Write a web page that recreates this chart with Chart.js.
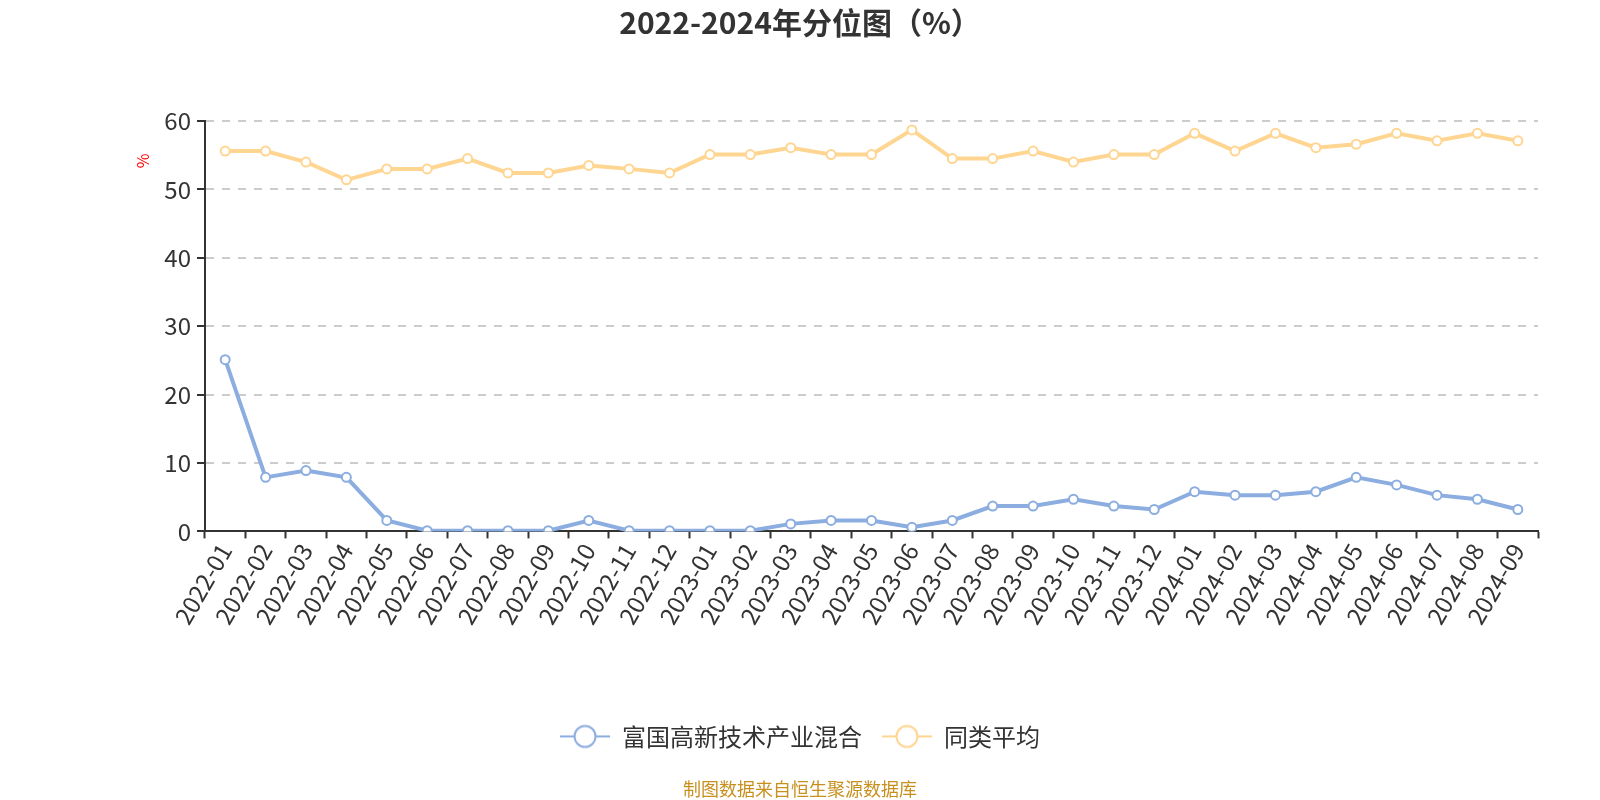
<!DOCTYPE html>
<html>
<head>
<meta charset="utf-8">
<script src="https://cdn.jsdelivr.net/npm/chart.js@4/dist/chart.umd.min.js"></script>
<style>
  html, body { margin: 0; padding: 0; background: #fff; }
  #wrap { width: 1600px; height: 800px; }
</style>
</head>
<body>
<div id="wrap"><canvas id="myChart"></canvas></div>
<script>
var months = ['2022-01','2022-02','2022-03','2022-04','2022-05','2022-06','2022-07','2022-08','2022-09','2022-10','2022-11','2022-12',
  '2023-01','2023-02','2023-03','2023-04','2023-05','2023-06','2023-07','2023-08','2023-09','2023-10','2023-11','2023-12',
  '2024-01','2024-02','2024-03','2024-04','2024-05','2024-06','2024-07','2024-08','2024-09'];
var fundValues = [25.1, 7.9, 8.9, 7.9, 1.6, 0.1, 0.1, 0.1, 0.1, 1.6, 0.1, 0.1,
  0.1, 0.1, 1.1, 1.6, 1.6, 0.6, 1.6, 3.7, 3.7, 4.7, 3.7, 3.2,
  5.8, 5.3, 5.3, 5.8, 7.9, 6.8, 5.3, 4.7, 3.2];
var avgValues = [55.6, 55.6, 54.0, 51.4, 53.0, 53.0, 54.5, 52.4, 52.4, 53.5, 53.0, 52.4,
  55.1, 55.1, 56.1, 55.1, 55.1, 58.7, 54.5, 54.5, 55.6, 54.0, 55.1, 55.1,
  58.2, 55.6, 58.2, 56.1, 56.6, 58.2, 57.1, 58.2, 57.1];
var yTicks = [0, 10, 20, 30, 40, 50, 60];
var seriesNames = ['富国高新技术产业混合', '同类平均'];

var FONT = "'Noto Sans CJK SC', 'Noto Sans', sans-serif";
var blue = '#8cade0';
var orange = '#ffd592';

// legend marker: short line with a hollow circle on it
function legendMarker(color) {
  var c = document.createElement('canvas');
  c.width = 50; c.height = 26;
  var g = c.getContext('2d');
  g.strokeStyle = color;
  g.lineWidth = 2;
  g.beginPath(); g.moveTo(0, 13); g.lineTo(50, 13); g.stroke();
  g.fillStyle = '#fff';
  g.beginPath(); g.arc(25, 13, 10.5, 0, Math.PI * 2); g.fill(); g.stroke();
  return c;
}
var markers = [legendMarker(blue), legendMarker(orange)];

// small red "%" label beside the y axis
var yUnitLabel = {
  id: 'yUnitLabel',
  afterDraw: function(chart) {
    var ctx = chart.ctx;
    ctx.save();
    ctx.translate(143, 161);
    ctx.rotate(-Math.PI / 2);
    ctx.fillStyle = '#ff0000';
    ctx.font = '16px ' + FONT;
    ctx.textAlign = 'center';
    ctx.textBaseline = 'middle';
    ctx.fillText('%', 0, 0);
    ctx.restore();
  }
};

var ctx = document.getElementById('myChart').getContext('2d');
var chart = new Chart(ctx, {
  type: 'line',
  data: {
    labels: months,
    datasets: [{
      label: seriesNames[0],
      data: fundValues,
      borderColor: blue,
      backgroundColor: '#fff',
      borderWidth: 4,
      pointRadius: 4.5,
      pointBorderWidth: 2,
      pointBackgroundColor: '#fff',
      pointBorderColor: blue,
      pointStyle: 'circle',
      tension: 0
    }, {
      label: seriesNames[1],
      data: avgValues,
      borderColor: orange,
      backgroundColor: '#fff',
      borderWidth: 4,
      pointRadius: 4.5,
      pointBorderWidth: 2,
      pointBackgroundColor: '#fff',
      pointBorderColor: orange,
      pointStyle: 'circle',
      tension: 0
    }]
  },
  options: {
    responsive: true,
    maintainAspectRatio: false,
    animation: false,
    layout: { padding: { left: 62, right: 62, top: 0, bottom: 0 } },
    plugins: {
      title: {
        display: true,
        text: '2022-2024年分位图（%）',
        color: '#333',
        font: { family: FONT, size: 30, weight: 'bold' },
        padding: { top: 5, bottom: 80 }
      },
      subtitle: {
        display: true,
        position: 'bottom',
        text: '制图数据来自恒生聚源数据库',
        color: '#c8901e',
        font: { family: FONT, size: 18 },
        padding: { top: 20, bottom: 0 }
      },
      legend: {
        position: 'bottom',
        labels: {
          usePointStyle: true,
          pointStyleWidth: 50,
          color: '#333',
          font: { family: FONT, size: 24 },
          padding: 20,
          generateLabels: function(ch) {
            return ch.data.datasets.map(function(ds, i) {
              return {
                text: ds.label,
                pointStyle: markers[i],
                datasetIndex: i,
                fontColor: '#333',
                lineWidth: 0,
                strokeStyle: 'transparent',
                fillStyle: 'transparent'
              };
            });
          }
        }
      },
      tooltip: { enabled: false }
    },
    scales: {
      x: {
        type: 'category',
        offset: true,
        grid: {
          display: true,
          offset: true,
          drawOnChartArea: false,
          drawTicks: true,
          tickLength: 7,
          tickColor: '#333',
          tickWidth: 2
        },
        border: { display: true, color: '#333', width: 2 },
        ticks: {
          color: '#333',
          font: { family: FONT, size: 24 },
          maxRotation: 60,
          minRotation: 60,
          autoSkip: false,
          padding: 0
        },
        afterFit: function(scale) { scale.height = 173; }
      },
      y: {
        min: 0,
        max: 60,
        afterBuildTicks: function(scale) {
          scale.ticks = yTicks.map(function(v) { return { value: v }; });
        },
        afterFit: function(scale) { scale.width = 143; },
        grid: {
          color: '#cccccc',
          lineWidth: 2,
          drawTicks: true,
          tickLength: 8,
          tickColor: '#333',
          tickWidth: 2,
          tickBorderDash: []
        },
        border: { display: true, color: '#333', width: 2, dash: [8, 8] },
        ticks: {
          color: '#333',
          font: { family: FONT, size: 24 },
          padding: 6
        }
      }
    }
  },
  plugins: [yUnitLabel]
});
</script>
</body>
</html>
